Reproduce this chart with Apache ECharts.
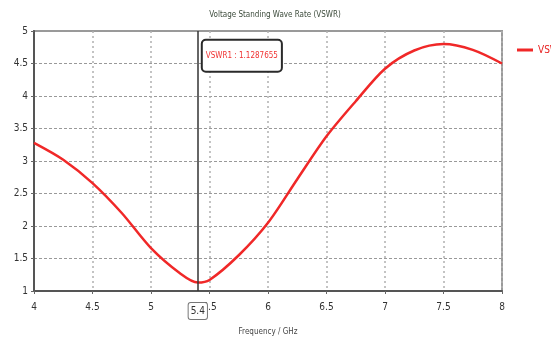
<!DOCTYPE html>
<html>
<head>
<meta charset="utf-8">
<script src="https://cdn.jsdelivr.net/npm/echarts@6/dist/echarts.min.js"></script>
<style>
  html, body { margin: 0; padding: 0; background: #fff; }
  #chart { width: 551px; height: 341px; }
</style>
</head>
<body>
<div id="chart"></div>
<script>
// frequency (GHz) and VSWR
const freq = [4.0, 4.25, 4.5, 4.75, 5.0, 5.25, 5.4, 5.5, 5.75, 6.0, 6.25, 6.5, 6.75, 7.0, 7.25, 7.5, 7.75, 8.0];
const vswr = [3.28, 3.02, 2.66, 2.2, 1.66, 1.27, 1.13, 1.17, 1.55, 2.05, 2.72, 3.38, 3.92, 4.42, 4.7, 4.8, 4.71, 4.5];
const markerFreq = 5.4;
const markerText = 'VSWR1 : 1.1287655';

const font = "'DejaVu Sans Condensed', 'Liberation Sans Narrow', sans-serif";

const chart = echarts.init(document.getElementById('chart'));

chart.setOption({
  animation: false,
  textStyle: { fontFamily: font },
  title: {
    text: 'Voltage Standing Wave Rate (VSWR)',
    left: 270,
    textAlign: 'center',
    top: 6,
    textStyle: { fontSize: 8, fontWeight: 'normal', color: '#3b4a3a', fontFamily: font }
  },
  legend: {
    left: 512,
    top: 40,
    icon: 'rect',
    itemWidth: 16,
    itemHeight: 3,
    itemGap: 4,
    textStyle: { color: '#e82020', fontSize: 10, fontFamily: font },
    data: ['VSWR']
  },
  grid: {
    left: 34, right: 49, top: 31, bottom: 48,
    show: true,
    borderColor: '#9a9a9a',
    borderWidth: 2
  },
  xAxis: {
    type: 'value',
    min: 4, max: 8, interval: 0.5,
    name: 'Frequency / GHz',
    nameLocation: 'middle',
    nameGap: 37,
    nameTextStyle: { fontSize: 8, color: '#444', fontFamily: font },
    axisLine: { lineStyle: { color: '#555', width: 2 } },
    axisTick: { show: true, length: 3, lineStyle: { color: '#666' } },
    axisLabel: { fontSize: 10, color: '#333', margin: 11 },
    splitLine: { show: true, lineStyle: { color: '#b0b0b0', type: [2, 3], width: 1.5 } }
  },
  yAxis: {
    type: 'value',
    min: 1, max: 5, interval: 0.5,
    axisLine: { show: true, lineStyle: { color: '#555', width: 2 } },
    axisTick: { show: true, length: 3, lineStyle: { color: '#666' } },
    axisLabel: { fontSize: 10, color: '#333', margin: 6 },
    splitLine: { show: true, lineStyle: { color: '#999', type: [3, 2], width: 1 } }
  },
  series: [{
    name: 'VSWR',
    type: 'line',
    smooth: 0.3,
    symbol: 'none',
    data: freq.map((f, i) => [f, vswr[i]]),
    lineStyle: { color: '#f02828', width: 2.5 },
    itemStyle: { color: '#f02828' },
    markLine: {
      silent: true,
      symbol: 'none',
      lineStyle: { color: '#333', width: 1.5, type: 'solid' },
      label: {
        show: true,
        position: 'start',
        distance: 12,
        formatter: String(markerFreq),
        fontSize: 10,
        color: '#333',
        backgroundColor: '#fff',
        borderColor: '#777',
        borderWidth: 1,
        borderRadius: 2,
        padding: [3, 2]
      },
      data: [{ xAxis: markerFreq }]
    },
    markPoint: {
      silent: true,
      symbol: 'rect',
      symbolSize: 0,
      label: {
        show: true,
        position: 'right',
        distance: 5,
        formatter: markerText,
        fontSize: 8,
        color: '#f03030',
        backgroundColor: '#fff',
        borderColor: '#2a2a2a',
        borderWidth: 2,
        borderRadius: 3,
        padding: [11, 3]
      },
      data: [{ coord: [markerFreq, 4.62] }]
    }
  }]
});
</script>
</body>
</html>
